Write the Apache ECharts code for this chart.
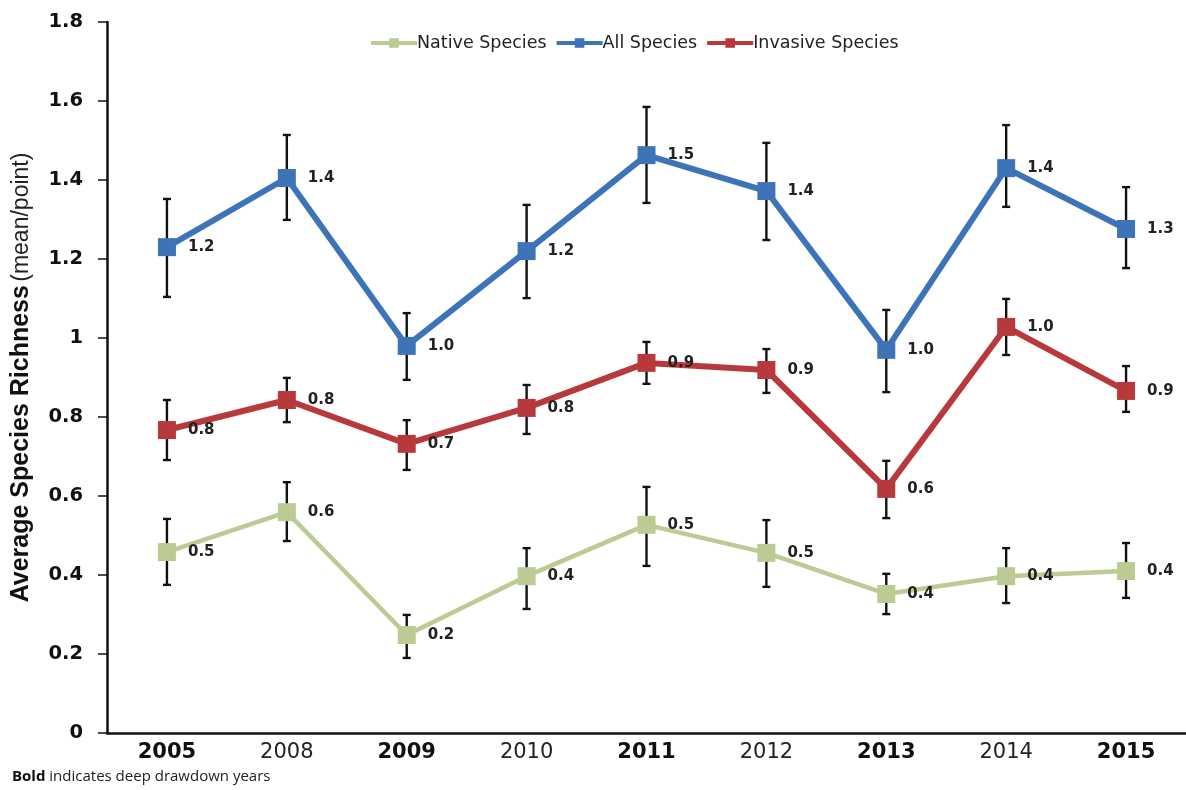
<!DOCTYPE html>
<html>
<head>
<meta charset="utf-8">
<script src="https://cdn.jsdelivr.net/npm/echarts@6/dist/echarts.min.js"></script>
<style>
  html, body { margin: 0; padding: 0; background: #fff; }
  #main { width: 1186px; height: 790px; }
</style>
</head>
<body>
<div id="main"></div>
<script>
// years on the x axis; bold ones are deep drawdown years
const years = ['2005', '2008', '2009', '2010', '2011', '2012', '2013', '2014', '2015']
const boldYears = ['2005', '2009', '2011', '2013', '2015']

// mean richness per point
const nativeVals = [0.458, 0.559, 0.248, 0.397, 0.527, 0.456, 0.352, 0.397, 0.41]
const allVals = [1.23, 1.405, 0.98, 1.22, 1.463, 1.372, 0.97, 1.43, 1.276]
const invasiveVals = [0.767, 0.843, 0.732, 0.823, 0.937, 0.919, 0.618, 1.028, 0.866]

// error bar ends (low, high)
const nativeLow = [0.375, 0.486, 0.19, 0.314, 0.423, 0.37, 0.301, 0.329, 0.342]
const nativeHigh = [0.542, 0.635, 0.299, 0.468, 0.623, 0.539, 0.403, 0.468, 0.481]
const allLow = [1.104, 1.299, 0.894, 1.101, 1.342, 1.248, 0.863, 1.332, 1.177]
const allHigh = [1.352, 1.514, 1.063, 1.337, 1.585, 1.494, 1.071, 1.539, 1.382]
const invasiveLow = [0.691, 0.787, 0.666, 0.757, 0.884, 0.861, 0.544, 0.957, 0.813]
const invasiveHigh = [0.843, 0.899, 0.792, 0.881, 0.99, 0.972, 0.689, 1.099, 0.929]

const chart = echarts.init(document.getElementById('main'))

// 误差线
const errorSeries = (low, high) => ({
  type: 'custom',
  silent: true,
  z: 1,
  data: low.map((l, i) => [i, l, high[i]]),
  renderItem: (params, api) => {
    const top = api.coord([api.value(0), api.value(2)])
    const bot = api.coord([api.value(0), api.value(1)])
    const cap = 4
    const style = {stroke: '#111', lineWidth: 2.4}
    return {
      type: 'group',
      children: [
        {type: 'line', shape: {x1: top[0], y1: top[1], x2: bot[0], y2: bot[1]}, style},
        {type: 'line', shape: {x1: top[0] - cap, y1: top[1], x2: top[0] + cap, y2: top[1]}, style},
        {type: 'line', shape: {x1: bot[0] - cap, y1: bot[1], x2: bot[0] + cap, y2: bot[1]}, style}
      ]
    }
  }
})

const lineSeries = (name, vals, color, width) => ({
  name,
  type: 'line',
  data: vals,
  z: 3,
  symbol: 'rect',
  symbolSize: 18,
  lineStyle: {color, width},
  itemStyle: {color},
  label: {
    show: true,
    position: 'right',
    distance: 12,
    formatter: p => p.value.toFixed(1),
    fontFamily: 'DejaVu Sans',
    fontWeight: 'bold',
    fontSize: 15,
    color: '#222'
  }
})

const options = {
  animation: false,
  grid: {left: 107, right: 0, top: 22, bottom: 57, containLabel: false, outerBoundsMode: 'none'},
  legend: {
    left: 364,
    top: 29,
    itemWidth: 46,
    itemHeight: 12,
    itemGap: 8,
    data: ['Native Species', 'All Species', 'Invasive Species'],
    lineStyle: {width: 4},
    textStyle: {fontFamily: 'DejaVu Sans', fontSize: 17.5, color: '#222', padding: [0, 0, 0, -5]}
  },
  xAxis: {
    type: 'category',
    data: years,
    axisLine: {lineStyle: {color: '#111', width: 2.5}},
    axisTick: {show: false},
    axisLabel: {
      margin: 9,
      formatter: v => boldYears.includes(v) ? '{b|' + v + '}' : '{n|' + v + '}',
      rich: {
        b: {fontFamily: 'DejaVu Sans', fontSize: 21, fontWeight: 'bold', color: '#111'},
        n: {fontFamily: 'DejaVu Sans', fontSize: 21, color: '#222'}
      }
    }
  },
  yAxis: {
    type: 'value',
    min: 0,
    max: 1.8,
    interval: 0.2,
    axisLine: {show: true, lineStyle: {color: '#111', width: 2.5}},
    axisTick: {show: true, length: 9, lineStyle: {color: '#111', width: 1.5}},
    splitLine: {show: false},
    axisLabel: {
      margin: 24,
      fontFamily: 'DejaVu Sans',
      fontSize: 19.5,
      fontWeight: 'bold',
      color: '#111'
    },
    name: '{a|Average Species Richness} {c|(mean/point)}',
    nameLocation: 'middle',
    nameRotate: 90,
    nameGap: 73,
    nameTextStyle: {
      rich: {
        a: {fontFamily: 'Liberation Sans', fontSize: 25, fontWeight: 'bold', color: '#111'},
        c: {fontFamily: 'Liberation Sans', fontSize: 23, color: '#222'}
      }
    }
  },
  graphic: [{
    type: 'text',
    left: 12,
    top: 769,
    style: {
      text: '{b|Bold} indicates deep drawdown years',
      fontFamily: 'Open Sans',
      fontSize: 15,
      fill: '#222',
      rich: {b: {fontFamily: 'Open Sans', fontSize: 15, fontWeight: 'bold', fill: '#111'}}
    }
  }],
  series: [
    errorSeries(nativeLow, nativeHigh),
    errorSeries(allLow, allHigh),
    errorSeries(invasiveLow, invasiveHigh),
    lineSeries('Native Species', nativeVals, '#bccb94', 4.5),
    lineSeries('All Species', allVals, '#3d74b8', 6),
    lineSeries('Invasive Species', invasiveVals, '#b8393c', 6)
  ]
}
chart.setOption(options)
</script>
</body>
</html>
